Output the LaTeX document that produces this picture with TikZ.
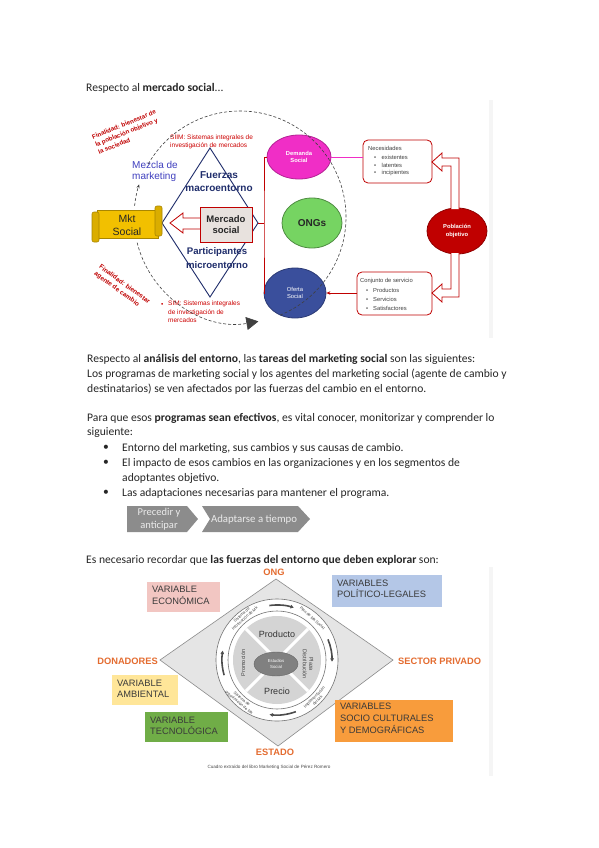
\documentclass[tikz,border=0pt]{standalone}
\usepackage{fontspec}
\setmainfont{Carlito}
\newfontfamily\arial{Liberation Sans}
\usetikzlibrary{shapes.geometric,arrows.meta,calc}
\definecolor{dred}{HTML}{C00000}
\definecolor{navy}{HTML}{1F2D6B}
\definecolor{mblue}{HTML}{3F3FBF}
\definecolor{magen}{HTML}{F02EC6}
\definecolor{ongg}{HTML}{76D462}
\definecolor{ofeb}{HTML}{3A4F9C}
\definecolor{scroll}{HTML}{F2C000}
\definecolor{boxgray}{HTML}{E8E2DE}
\definecolor{chev}{HTML}{8C8C8C}
\definecolor{orlab}{HTML}{E46C30}
\definecolor{vpink}{HTML}{F2C6C2}
\definecolor{vblue}{HTML}{B4C7E7}
\definecolor{vyel}{HTML}{FFE699}
\definecolor{vgreen}{HTML}{70AD47}
\definecolor{vorange}{HTML}{F89C3C}
\definecolor{vtext}{HTML}{3A3A3A}
\begin{document}
\begin{tikzpicture}[x=1pt,y=1pt,
  body/.style={anchor=west,inner sep=0,font=\fontsize{11.6}{13}\selectfont,text=black!85},
  redtxt/.style={anchor=west,inner sep=0,align=left,text=red!80!black,font=\arial\fontsize{6.5}{8.2}\selectfont},
  smalltxt/.style={anchor=west,inner sep=0,text=black!75,font=\arial\fontsize{5.8}{7}\selectfont},
  oval/.style={ellipse,inner sep=0,align=center,line width=0.8pt},
  varbox/.style={anchor=north west,inner sep=0,align=left,text=vtext,font=\arial\fontsize{9.3}{11.5}\selectfont},
  orlabel/.style={inner sep=0,text=orlab,font=\arial\bfseries\fontsize{9.3}{11}\selectfont},
  ringtxt/.style={inner sep=0,align=center,text=black!75,font=\arial\fontsize{4}{4.6}\selectfont},
  dashc/.style={draw=black!75,line width=0.6pt,dash pattern=on 3pt off 2pt},
  hollow/.style={fill=white,draw=dred,line width=0.8pt,line join=miter}
]
\useasboundingbox (0,0) rectangle (599,-848);
\fill[white] (0,0) rectangle (599,-848);

% ---------- heading ----------
\node[body] (h1) at (86,-88) {Respecto al \textbf{mercado social}...};

% ---------- top diagram ----------
\fill[black!4] (489,-100) rectangle (493,-338);
\coordinate (cc) at (240,-217);

% diamond
\coordinate (dt) at (210,-148);
\coordinate (dr) at (258,-223);
\coordinate (db) at (210,-297);
\coordinate (dl) at (162,-223);
\draw[navy,line width=0.9pt] (dt) -- (dr) -- (db) -- (dl) -- cycle;

% hollow arrow from Mercado social to Mkt Social
\draw[hollow] (204,-218) -- (183,-218) -- (183,-213) -- (170,-223) -- (183,-233) -- (183,-229) -- (204,-229);
\node[draw=dred,fill=boxgray,line width=0.8pt,minimum width=52,minimum height=35,inner sep=0,align=center,
      font=\arial\bfseries\fontsize{9.5}{11.5}\selectfont,text=black!85] (merc) at (226,-224.5) {Mercado\\social};

% Mkt Social scroll
\draw[scroll!70!black,fill=scroll,line width=0.6pt] (97,-210) rectangle (158,-238);
\draw[scroll!70!black,fill=scroll!90!black,line width=0.6pt,rounded corners=2] (92,-212) rectangle (99,-242);
\draw[scroll!70!black,fill=scroll!90!black,line width=0.6pt,rounded corners=2] (155,-206) rectangle (162,-236);
\node[inner sep=0,align=center,font=\arial\fontsize{10.5}{13.5}\selectfont,text=black!85] (mkt) at (127,-225) {Mkt\\Social};

% texts inside
\node[inner sep=0,align=center,text=navy,font=\arial\bfseries\fontsize{10}{13}\selectfont] (fuer) at (219,-181.5) {Fuerzas\\macroentorno};
\node[inner sep=0,align=center,text=navy,font=\arial\bfseries\fontsize{9.6}{13.5}\selectfont] (part) at (217,-258) {Participantes\\microentorno};
\node[anchor=west,inner sep=0,align=left,text=mblue,font=\arial\fontsize{10}{11.5}\selectfont] (mezc) at (132,-171.5) {Mezcla de\\marketing};

\node[rotate=22,align=left,inner sep=0,text=dred,font=\arial\bfseries\fontsize{6.2}{8.2}\selectfont] (fin1) at (127,-132) {Finalidad: bienestar de\\la población objetivo y\\la sociedad};
\node[rotate=-36,align=left,inner sep=0,text=dred,font=\arial\bfseries\fontsize{6.4}{8.4}\selectfont] (fin2) at (122,-288) {Finalidad: bienestar\\agente de cambio};

\node[redtxt] (siim) at (170,-142) {SIIM: Sistemas integrales de\\investigación de mercados};
\node[anchor=west,inner sep=0,text=red!80!black,font=\arial\fontsize{6.5}{8}\selectfont] (bul) at (161,-305) {•};
\node[redtxt,anchor=north west] (sim) at (168,-301) {SIM: Sistemas integrales\\de investigación de\\mercados};

% ovals
\node[oval,fill=magen,draw=magen!75!black,minimum width=64,minimum height=44,text=white,font=\arial\bfseries\fontsize{5.8}{7.5}\selectfont] (dem) at (299,-157) {Demanda\\Social};
\node[oval,fill=ongg,draw=ongg!65!black,minimum width=60,minimum height=50,text=black!85,font=\arial\bfseries\fontsize{10}{12}\selectfont] (ong) at (312,-223) {ONGs};
\node[oval,fill=ofeb,draw=ofeb!75!black,minimum width=62,minimum height=50,text=white,font=\arial\fontsize{5.8}{7.5}\selectfont] (ofe) at (295,-293) {Oferta\\Social};
\node[oval,fill=dred,draw=dred!75!black,minimum width=60,minimum height=46,text=white,font=\arial\bfseries\fontsize{5.8}{7.5}\selectfont] (pob) at (457,-231) {Población\\objetivo};

% red bracket
\coordinate (brk) at (264,-223);
\draw[dred,line width=0.8pt] (dem.west) -| (brk) |- (ofe.west);
\draw[dred,line width=0.8pt] (dr) -- (brk);

% boxes
\node[draw=dred,fill=white,rounded corners=5,line width=0.8pt,minimum width=69,minimum height=43,inner sep=0] (nec) at (397.5,-161.5) {};
\node[smalltxt] (nec0) at (368,-148) {Necesidades};
\node[smalltxt] (nec1) at (374,-157) {•\hspace{5.5pt}existentes};
\node[smalltxt] (nec2) at (374,-165) {•\hspace{5.5pt}latentes};
\node[smalltxt] (nec3) at (374,-173) {•\hspace{5.5pt}incipientes};

\node[draw=dred,fill=white,rounded corners=5,line width=0.8pt,minimum width=75,minimum height=43,inner sep=0] (conj) at (394.5,-293.5) {};
\node[smalltxt] (cj0) at (360,-281) {Conjunto de servicio};
\node[smalltxt] (cj1) at (366,-290) {•\hspace{5pt}Productos};
\node[smalltxt] (cj2) at (366,-299) {•\hspace{5pt}Servicios};
\node[smalltxt] (cj3) at (366,-308) {•\hspace{5pt}Satisfactores};

% connectors
\draw[magen,line width=0.7pt] (dem.east) -- (dem.east -| nec.west);
\draw[dred,line width=0.8pt,-{Stealth[length=4pt,width=3.5pt]}] (conj.west |- ofe.east) -- (ofe.east);

% hollow L arrows from Poblacion objetivo
\draw[hollow] (459,-209) -- (459,-158) -- (442,-158) -- (442,-153) -- (432,-162) -- (442,-171) -- (442,-166) -- (451,-166) -- (451,-209);
\draw[hollow] (451,-253) -- (451,-289) -- (442,-289) -- (442,-284) -- (432,-293) -- (442,-302) -- (442,-297) -- (459,-297) -- (459,-253);

% dashed cycle
\draw[dashc,-{Stealth[length=4pt,width=3pt]}] ($(cc)+(174:106)$) arc[start angle=174,end angle=162,radius=106];
\draw[dashc] ($(cc)+(150:106)$) arc[start angle=150,end angle=-68,radius=106];
\draw[dashc,-{Triangle[length=12pt,width=13pt]}] ($(cc)+(194:106)$) arc[start angle=194,end angle=280,radius=106];

% ---------- text section ----------
\node[body] (t1) at (87,-359) {Respecto al \textbf{análisis del entorno}, las \textbf{tareas del marketing social} son las siguientes:};
\node[body] (t2) at (87,-374) {Los programas de marketing social y los agentes del marketing social (agente de cambio y};
\node[body] (t3) at (87,-389) {destinatarios) se ven afectados por las fuerzas del cambio en el entorno.};
\node[body] (t4) at (87,-418) {Para que esos \textbf{programas sean efectivos}, es vital conocer, monitorizar y comprender lo};
\node[body] (t5) at (87,-433) {siguiente:};
\node[body] (b1) at (103,-448) {•};
\node[body] (t6) at (122,-448) {Entorno del marketing, sus cambios y sus causas de cambio.};
\node[body] (b2) at (103,-463) {•};
\node[body] (t7) at (122,-463) {El impacto de esos cambios en las organizaciones y en los segmentos de};
\node[body] (t8) at (122,-478) {adoptantes objetivo.};
\node[body] (b3) at (103,-493) {•};
\node[body] (t9) at (122,-493) {Las adaptaciones necesarias para mantener el programa.};

% chevrons
\fill[chev] (127,-506) -- (187,-506) -- (198,-519) -- (187,-532) -- (127,-532) -- cycle;
\fill[chev] (202,-506) -- (298,-506) -- (310,-519) -- (298,-532) -- (202,-532) -- (210,-519) -- cycle;
\node[inner sep=0,align=center,text=black!8,font=\fontsize{10.5}{13}\selectfont] (ch1) at (159,-519.5) {Precedir y\\anticipar};
\node[inner sep=0,text=black!8,font=\fontsize{10.8}{13}\selectfont] (ch2) at (254,-520) {Adaptarse a tiempo};

\node[body] (t10) at (86,-560) {Es necesario recordar que \textbf{las fuerzas del entorno que deben explorar} son:};

% ---------- bottom diagram ----------
\fill[black!4] (489,-567) rectangle (493,-776);
\coordinate (gc) at (277,-660);
\draw[black!45,fill=black!10,line width=0.6pt] (276,-579) -- (393,-660) -- (278,-746) -- (160,-660) -- cycle;

\node[orlabel] (lng) at (274,-572) {ONG};
\node[orlabel,anchor=east] (ldon) at (158,-661) {DONADORES};
\node[orlabel,anchor=west] (lsec) at (398,-661) {SECTOR PRIVADO};
\node[orlabel] (lest) at (275,-752) {ESTADO};

% variable boxes
\fill[vpink] (147,-582) rectangle (220,-612);
\node[varbox] (v1) at (152,-586) {VARIABLE\\ECONÓMICA};
\fill[vblue] (332,-575) rectangle (442,-607);
\node[varbox] (v2) at (337,-579.5) {VARIABLES\\POLÍTICO-LEGALES};
\fill[vyel] (112,-675) rectangle (178,-705);
\node[varbox] (v3) at (117,-679.5) {VARIABLE\\AMBIENTAL};
\fill[vgreen] (145,-712) rectangle (228,-742);
\node[varbox] (v4) at (150,-716.5) {VARIABLE\\TECNOLÓGICA};
\fill[vorange] (335,-700) rectangle (453,-742);
\node[varbox,font=\arial\fontsize{9.3}{12}\selectfont] (v5) at (340,-702.5) {VARIABLES\\SOCIO CULTURALES\\Y DEMOGRÁFICAS};

% circles
\fill[white] (gc) circle[radius=61];
\draw[black!55,line width=0.6pt] (gc) circle[radius=61];
\draw[black!55,line width=0.6pt] (gc) circle[radius=49];
\fill[black!17] (gc) circle[radius=44];
\draw[white,line width=3pt] ($(gc)+(45:44)$) -- ($(gc)+(225:44)$);
\draw[white,line width=3pt] ($(gc)+(135:44)$) -- ($(gc)+(315:44)$);
\node[ellipse,fill=black!50,draw=black!60,minimum width=44,minimum height=24,inner sep=0,align=center,text=white,
      font=\arial\fontsize{4.3}{5.2}\selectfont] (est) at (276,-664) {Estudios\\Social};

\node[inner sep=0,text=black!80,font=\arial\fontsize{9}{10}\selectfont] (prod) at (277,-634) {Producto};
\node[inner sep=0,text=black!80,font=\arial\fontsize{9}{10}\selectfont] (prec) at (277,-691) {Precio};
\node[inner sep=0,rotate=90,text=black!75,font=\arial\fontsize{5.5}{6}\selectfont] (prom) at (243,-663) {Promoción};
\node[inner sep=0,rotate=-90,align=center,text=black!75,font=\arial\fontsize{5.5}{6.5}\selectfont] (plaz) at (308,-664) {Plaza\\Distribución};

% ring texts
\node[ringtxt,rotate=42] (r1) at ($(gc)+(128:55)$) {Sistema de\\Información de Mk};
\node[ringtxt,rotate=-42] (r2) at ($(gc)+(50:55)$) {Plan de Mk Social};
\node[ringtxt,rotate=45] (r3) at ($(gc)+(-45:55)$) {Implementación\\del Mk};
\node[ringtxt,rotate=-40] (r4) at ($(gc)+(-132:55)$) {Sistema de\\organización de Mk};

% ring arrows (clockwise)
\draw[black!70,line width=1.6pt,-{Latex[length=3.5pt,width=4pt]}] ($(gc)+(98:55)$) arc[start angle=98,end angle=72,radius=55];
\draw[black!70,line width=1.6pt,-{Latex[length=3.5pt,width=4pt]}] ($(gc)+(22:55)$) arc[start angle=22,end angle=-2,radius=55];
\draw[black!70,line width=1.6pt,-{Latex[length=3.5pt,width=4pt]}] ($(gc)+(290:55)$) arc[start angle=290,end angle=262,radius=55];
\draw[black!70,line width=1.6pt,-{Latex[length=3.5pt,width=4pt]}] ($(gc)+(196:55)$) arc[start angle=196,end angle=170,radius=55];

\node[inner sep=0,text=black!70,font=\arial\fontsize{4.6}{5}\selectfont] (cite) at (269,-767) {Cuadro extraído del libro Marketing Social de Pérez Romero};
\end{tikzpicture}
\end{document}
